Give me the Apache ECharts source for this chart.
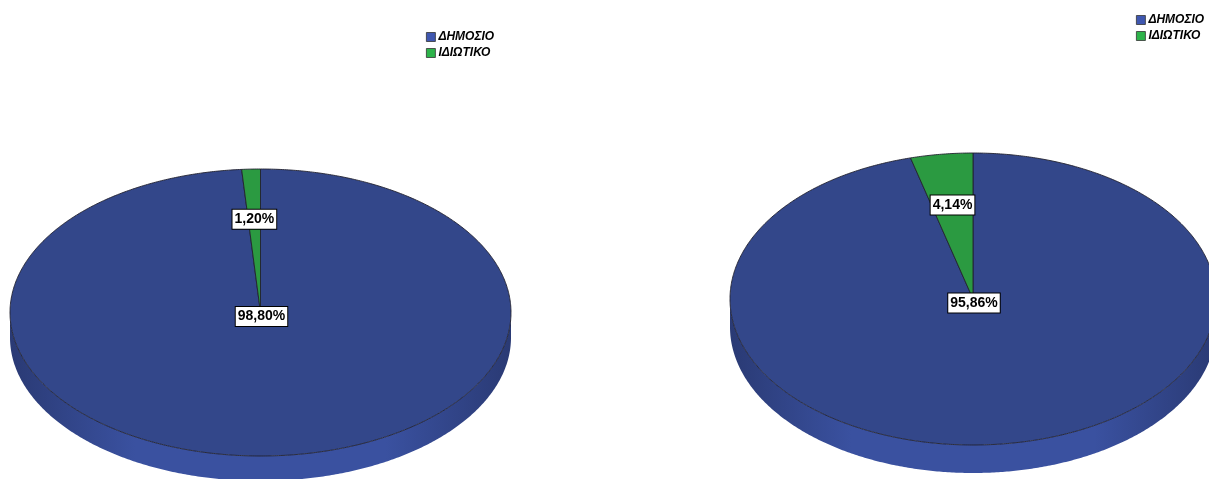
<!DOCTYPE html>
<html>
<head>
<meta charset="utf-8">
<script src="https://cdn.jsdelivr.net/npm/echarts@6/dist/echarts.min.js"></script>
<style>
html,body{margin:0;padding:0;background:#fff;}
#chart{width:1209px;height:479px;}
</style>
</head>
<body>
<div id="chart"></div>
<script>
// ---- data ----
const categories = ['ΔΗΜΟΣΙΟ', 'ΙΔΙΩΤΙΚΟ'];
const pieLeftValues = [98.80, 1.20];
const pieRightValues = [95.86, 4.14];
const pies = [pieLeftValues, pieRightValues];

// ---- layout / style ----
const pieLayout = [
  { cx: 260.5, cy: 312.5, rx: 250.5, ry: 143.5, depth: 25 },
  { cx: 973, cy: 299, rx: 243, ry: 146, depth: 28 }
];
const topColors = ['#33478a', '#2b9a41'];
const sideColors = [['#2a3a74', '#3a51a0'], ['#1f7a33', '#2cab48']];
const legendColors = ['#3f57b0', '#2db34a'];

function pt(L, th, dy) {
  return [L.cx + L.rx * Math.sin(th), L.cy - L.ry * Math.cos(th) + (dy || 0)];
}
function arc(L, a, b, dy) {
  const pts = [];
  const n = Math.max(2, Math.ceil(Math.abs(b - a) / (Math.PI / 360)));
  for (let i = 0; i <= n; i++) pts.push(pt(L, a + (b - a) * i / n, dy));
  return pts;
}
function fmt(v) { return v.toFixed(2).replace('.', ',') + '%'; }

function renderItem(params, api) {
  const ci = params.seriesIndex;
  const pi = params.dataIndex;
  const vals = pies[pi];
  const L = pieLayout[pi];
  const total = vals.reduce((s, v) => s + v, 0);
  let before = 0;
  for (let k = 0; k < ci; k++) before += vals[k];
  const v = api.value(0);
  const a = before / total * Math.PI * 2;
  const b = (before + v) / total * Math.PI * 2;
  const children = [];
  // side (front half only)
  const fa = Math.max(a, Math.PI / 2), fb = Math.min(b, Math.PI * 1.5);
  if (fb > fa) {
    const top = arc(L, fa, fb, 0);
    const bot = arc(L, fb, fa, L.depth);
    children.push({
      type: 'polygon',
      shape: { points: top.concat(bot) },
      style: {
        fill: {
          type: 'linear', x: L.cx - L.rx, y: 0, x2: L.cx + L.rx, y2: 0, global: true,
          colorStops: [
            { offset: 0, color: sideColors[ci][0] },
            { offset: 0.25, color: sideColors[ci][1] },
            { offset: 0.75, color: sideColors[ci][1] },
            { offset: 1, color: sideColors[ci][0] }
          ]
        },
        stroke: null
      },
      z2: 1
    });
  }
  // top face sector
  const pts = [[L.cx, L.cy]].concat(arc(L, a, b, 0));
  children.push({
    type: 'polygon',
    shape: { points: pts },
    style: { fill: topColors[ci], stroke: '#222230', lineWidth: 0.9, lineJoin: 'round' },
    z2: 5
  });
  // label
  const frac = v / total;
  let lx, ly;
  if (frac > 0.5) {
    lx = L.cx + 1; ly = L.cy + 4;
  } else {
    const m = (a + b) / 2;
    lx = L.cx + 0.65 * L.rx * Math.sin(m);
    ly = L.cy - 0.65 * L.ry * Math.cos(m);
  }
  children.push({
    type: 'text',
    x: lx, y: ly,
    style: {
      text: fmt(v),
      font: 'bold 14px "Liberation Sans Narrow", "Arial Narrow", sans-serif',
      fill: '#000',
      align: 'center',
      verticalAlign: 'middle',
      backgroundColor: '#fff',
      borderColor: '#000',
      borderWidth: 1,
      padding: [3, 2, 2, 2]
    },
    z2: 100
  });
  return { type: 'group', children: children };
}

const legendData = categories.map((c, i) => ({ name: c, itemStyle: { color: legendColors[i], borderColor: '#333', borderWidth: 0.8 } }));
const legendBase = {
  orient: 'vertical',
  icon: 'rect',
  itemWidth: 9,
  itemHeight: 9,
  itemGap: 2,
  padding: 0,
  selectedMode: false,
  textStyle: {
    fontFamily: '"Liberation Sans", Arial, sans-serif',
    fontWeight: 'bold',
    fontStyle: 'italic',
    fontSize: 12,
    color: '#000',
    lineHeight: 14,
    padding: [0, 0, 0, -2]
  },
  data: legendData
};

const chart = echarts.init(document.getElementById('chart'), null, { renderer: 'canvas' });
chart.setOption({
  animation: false,
  backgroundColor: '#fff',
  legend: [
    Object.assign({}, legendBase, { left: 426, top: 30 }),
    Object.assign({}, legendBase, { left: 1136, top: 13 })
  ],
  series: categories.map((name, ci) => ({
    type: 'custom',
    name: name,
    coordinateSystem: 'none',
    itemStyle: { color: legendColors[ci] },
    data: pies.map(p => p[ci]),
    renderItem: renderItem
  }))
});
</script>
</body>
</html>
